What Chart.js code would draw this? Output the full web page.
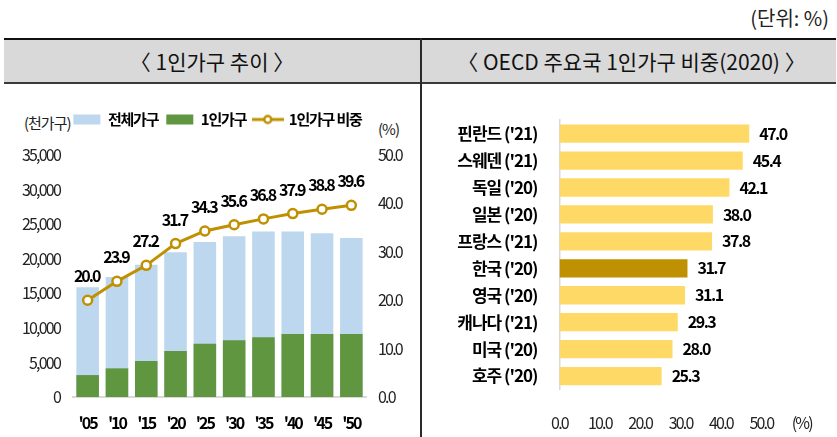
<!DOCTYPE html>
<html><head><meta charset="utf-8">
<script src="https://cdn.jsdelivr.net/npm/chart.js@4/dist/chart.umd.min.js"></script>
<style>
html,body{margin:0;padding:0;background:#fff;width:837px;height:437px;overflow:hidden;position:relative;font-family:"Noto Sans CJK KR",sans-serif;}
.hdr{position:absolute;top:38px;height:42px;background:#D9D9D9;border-top:2px solid #111;border-bottom:2px solid #3a3a3a;display:flex;align-items:center;justify-content:center;font-size:21px;color:#111;white-space:pre;}
.txt{position:absolute;white-space:nowrap;color:#222;}
canvas{position:absolute;}
</style></head>
<body>
<div class="txt" style="right:8px;top:4px;font-size:20px;line-height:28px;">(단위: %)</div>
<div class="hdr" style="left:4px;width:416px;">〈 1인가구 추이 〉</div>
<div class="hdr" style="left:421px;width:415px;padding-left:6px;box-sizing:content-box;width:409px;">〈 OECD 주요국 1인가구 비중(2020) 〉</div>
<div style="position:absolute;left:420px;top:38px;width:2px;height:400px;background:#2a2a2a;"></div>
<div class="txt" style="left:24px;top:112px;font-size:15px;line-height:22px;letter-spacing:-1px;">(천가구)</div>
<div class="txt" style="left:378px;top:118px;font-size:15px;line-height:22px;letter-spacing:-1px;">(%)</div>
<canvas id="left" width="420" height="342" style="left:0;top:95px;"></canvas>
<canvas id="right" width="416" height="349" style="left:421px;top:88px;"></canvas>
<script>
// ---- data ----
const years = ["'05","'10","'15","'20","'25","'30","'35","'40","'45","'50"];
const totalHouseholds = [15887,17339,19111,20927,22400,23250,23950,23950,23700,23000];
const singleHouseholds = [3171,4142,5203,6643,7700,8200,8650,9100,9100,9100];
const singleShare = [20.0,23.9,27.2,31.7,34.3,35.6,36.8,37.9,38.8,39.6];
const countries = ["핀란드 ('21)","스웨덴 ('21)","독일 ('20)","일본 ('20)","프랑스 ('21)","한국 ('20)","영국 ('20)","캐나다 ('21)","미국 ('20)","호주 ('20)"];
const countryShare = [47.0,45.4,42.1,38.0,37.8,31.7,31.1,29.3,28.0,25.3];
const highlightCountry = "한국 ('20)";
const seriesNames = ["전체가구","1인가구","1인가구 비중"];

const FONT = '"Noto Sans CJK KR", sans-serif';
const BLUE = '#BDD7EE', GREEN = '#619641', GOLD = '#BF9000', YELLOW = '#FFD966';
Chart.defaults.font.family = FONT;
Chart.defaults.color = '#222';

// condensed look: per-scale letter spacing applied when tick labels are drawn
function spacingPlugin(map){
  return {id:'spacing',
    beforeUpdate(chart){ chart.ctx.letterSpacing = '-1px'; },
    beforeDraw(chart){
      chart.ctx.letterSpacing = '-1px';
      Object.keys(map).forEach(id=>{
        const s = chart.scales[id];
        if (s && !s._spPatched){
          const d = s.drawLabels;
          s.drawLabels = function(a){ const ctx=this.ctx; const o=ctx.letterSpacing; ctx.letterSpacing=map[id]; d.call(this,a); ctx.letterSpacing=o; };
          s._spPatched = true;
        }
      });
    }
  };
}

// legend icon for the line series
const lineImg = document.createElement('canvas');
lineImg.width = 32; lineImg.height = 12;
(function(){
  const c = lineImg.getContext('2d');
  c.strokeStyle = GOLD; c.lineWidth = 3;
  c.beginPath(); c.moveTo(0,6); c.lineTo(32,6); c.stroke();
  c.beginPath(); c.arc(16,6,3.5,0,Math.PI*2); c.fillStyle='#fff'; c.fill();
  c.lineWidth = 2.5; c.stroke();
})();

const legendFix = {id:'legendFix', beforeUpdate(chart){
  const lg = chart.legend;
  if (lg && !lg._patched){
    const f = lg.fit, d = lg.draw;
    lg.fit = function(){ const ctx=this.ctx; const o=ctx.letterSpacing; ctx.letterSpacing='-1.2px'; f.call(this); ctx.letterSpacing=o; this.height = 53; };
    lg.draw = function(){ const ctx=this.ctx; ctx.save(); ctx.translate(0,2); ctx.letterSpacing='-1.2px'; d.call(this); ctx.restore(); };
    lg._patched = true;
  }
}};

const lineLabels = {id:'lineLabels', afterDatasetsDraw(chart){
  const ctx = chart.ctx;
  const meta = chart.getDatasetMeta(2);
  ctx.save();
  ctx.letterSpacing = '-2px';
  ctx.font = 'bold 16px ' + FONT; ctx.fillStyle = '#000';
  ctx.textAlign = 'center'; ctx.textBaseline = 'middle';
  meta.data.forEach((p,j)=>{ ctx.fillText(singleShare[j].toFixed(1), p.x - 1, p.y - 24); });
  ctx.restore();
}};

new Chart(document.getElementById('left'), {
  data: {
    labels: years,
    datasets: [
      {type:'bar', label: seriesNames[0], data: totalHouseholds, backgroundColor: BLUE, yAxisID:'y', grouped:false, order:3, categoryPercentage:1, barPercentage:0.77},
      {type:'bar', label: seriesNames[1], data: singleHouseholds, backgroundColor: GREEN, yAxisID:'y', grouped:false, order:2, categoryPercentage:1, barPercentage:0.77},
      {type:'line', label: seriesNames[2], data: singleShare, borderColor: GOLD, borderWidth:3, backgroundColor:'#fff', pointBackgroundColor:'#fff', pointBorderColor:GOLD, pointBorderWidth:2.5, pointRadius:4.5, yAxisID:'y1', order:1, tension:0}
    ]
  },
  options: {
    responsive:false, animation:false, devicePixelRatio:1,
    layout:{padding:{top:7,left:15,right:0,bottom:0}},
    plugins:{
      tooltip:{enabled:false},
      legend:{position:'top', align:'center',
        labels:{usePointStyle:true, pointStyleWidth:27, boxHeight:10, padding:8, color:'#000',
          font:{size:15, weight:'bold', family:FONT},
          generateLabels(chart){
            return chart.data.datasets.map((ds,i)=>({
              text: ds.label, fillStyle: ds.type==='line'?GOLD:ds.backgroundColor,
              strokeStyle:'rgba(0,0,0,0)', lineWidth:0,
              pointStyle: ds.type==='line'? lineImg : 'rect',
              datasetIndex:i, hidden:false, fontColor:'#000'
            }));
          }}
      }
    },
    scales:{
      x:{grid:{display:false, drawTicks:false}, border:{display:true, color:'#D9D9D9', width:2},
         ticks:{padding:16, color:'#000', maxRotation:0, minRotation:0, autoSkip:false, font:{size:16, weight:'bold'}},
         afterFit(s){ s.height = 40; }},
      y:{position:'left', min:0, max:35000, grid:{display:false, drawTicks:false}, border:{display:false},
         ticks:{stepSize:5000, padding:13, color:'#222', font:{size:16},
           callback:v=>v.toLocaleString('en-US')},
         afterFit(s){ s.width = 58; }},
      y1:{position:'right', min:0, max:50, grid:{display:false, drawTicks:false}, border:{display:false},
         ticks:{stepSize:10, padding:12, color:'#222', font:{size:16}, callback:v=>v.toFixed(1)},
         afterFit(s){ s.width = 54; }}
    }
  },
  plugins:[spacingPlugin({x:'-2px', y:'-1.8px', y1:'-1.8px'}), legendFix, lineLabels]
});

const barLabels = {id:'barLabels', afterDatasetsDraw(chart){
  const ctx = chart.ctx;
  const meta = chart.getDatasetMeta(0);
  ctx.save();
  ctx.letterSpacing = '-1.5px';
  ctx.font = 'bold 16px ' + FONT; ctx.fillStyle = '#000';
  ctx.textAlign = 'left'; ctx.textBaseline = 'middle';
  meta.data.forEach((b,j)=>{ ctx.fillText(countryShare[j].toFixed(1), b.x + 10, b.y); });
  ctx.restore();
}};

new Chart(document.getElementById('right'), {
  type:'bar',
  data:{
    labels: countries,
    datasets:[{label:'1인가구 비중', data: countryShare,
      backgroundColor: countries.map(c=> c===highlightCountry ? GOLD : YELLOW),
      categoryPercentage:1, barPercentage:0.68}]
  },
  options:{
    indexAxis:'y', responsive:false, animation:false, devicePixelRatio:1,
    layout:{padding:{top:8, right:34, left:0, bottom:0}},
    plugins:{legend:{display:false}, tooltip:{enabled:false}},
    scales:{
      x:{min:0, max:60, grid:{display:false, drawTicks:false}, border:{display:false},
         ticks:{stepSize:10, padding:24, color:'#222', font:{size:16},
           callback:v=> v===60 ? '(%)' : v.toFixed(1)},
         afterFit(s){ s.height = 47.5; }},
      y:{grid:{display:false, drawTicks:false}, border:{display:true, color:'#D9D9D9', width:1.5},
         ticks:{padding:22, color:'#000', font:{size:17, weight:'bold'}},
         afterFit(s){ s.width = 138.5; }}
    }
  },
  plugins:[spacingPlugin({x:'-1.8px', y:'-1px'}), barLabels]
});
</script>
</body></html>
